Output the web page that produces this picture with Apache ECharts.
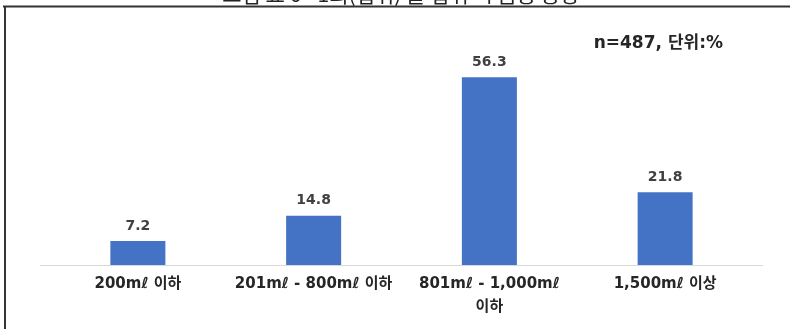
<!DOCTYPE html>
<html>
<head>
<meta charset="utf-8">
<script src="https://cdn.jsdelivr.net/npm/echarts@6/dist/echarts.min.js"></script>
<style>
  html, body { margin: 0; padding: 0; background: #fff; }
  #main { width: 790px; height: 329px; }
</style>
</head>
<body>
<div id="main"></div>
<script>
// 데이터
var categories = ['200mℓ 이하', '201mℓ - 800mℓ 이하', '801mℓ - 1,000mℓ\n이하', '1,500mℓ 이상']
var values = [7.2, 14.8, 56.3, 21.8]
var chartTitle = '<그림 표 6> 1회(섭취) 물 섭취 시 음용 용량'
var noteText = 'n=487, 단위:%'

var chart = echarts.init(document.getElementById('main'))
var font = '"DejaVu Sans", "Noto Sans CJK KR", sans-serif'

var option = {
  animation: false,
  backgroundColor: '#fff',
  grid: {
    left: 50,
    right: 37,
    top: 65,
    bottom: 64
  },
  xAxis: {
    type: 'category',
    data: categories,
    axisLine: { show: false },
    axisTick: { show: false },
    axisLabel: {
      color: '#262626',
      fontSize: 15,
      fontWeight: 'bold',
      fontFamily: font,
      margin: 8,
      lineHeight: 23,
      interval: 0
    }
  },
  yAxis: {
    type: 'value',
    min: 0,
    max: 60,
    show: false
  },
  series: [{
    type: 'bar',
    data: values,
    barWidth: 55,
    itemStyle: { color: '#4472c4' },
    label: {
      show: true,
      position: 'top',
      distance: 8,
      color: '#404040',
      fontSize: 14,
      fontWeight: 'bold',
      fontFamily: font
    }
  }],
  graphic: [
    // 축선 (기준선)
    {
      type: 'line',
      shape: { x1: 40, y1: 265.5, x2: 763, y2: 265.5 },
      style: { stroke: '#d9d9d9', lineWidth: 1 }
    },
    // 위쪽 가로선
    {
      type: 'line',
      shape: { x1: 3, y1: 6.5, x2: 790, y2: 6.5 },
      style: { stroke: '#333', lineWidth: 2 }
    },
    // 왼쪽 세로선
    {
      type: 'line',
      shape: { x1: 5, y1: 6, x2: 5, y2: 329 },
      style: { stroke: '#333', lineWidth: 2 }
    },
    // 잘린 제목
    {
      type: 'text',
      left: 'center',
      top: -16,
      z: 0,
      style: {
        text: chartTitle,
        fill: '#222',
        fontSize: 21,
        fontFamily: '"Noto Sans CJK KR", sans-serif'
      }
    },
    {
      type: 'text',
      right: 67,
      top: 35,
      style: {
        text: noteText,
        fill: '#262626',
        fontSize: 17,
        fontWeight: 'bold',
        fontFamily: font
      }
    }
  ]
}

chart.setOption(option)
window.addEventListener('resize', function () {
  chart.resize()
})
</script>
</body>
</html>
